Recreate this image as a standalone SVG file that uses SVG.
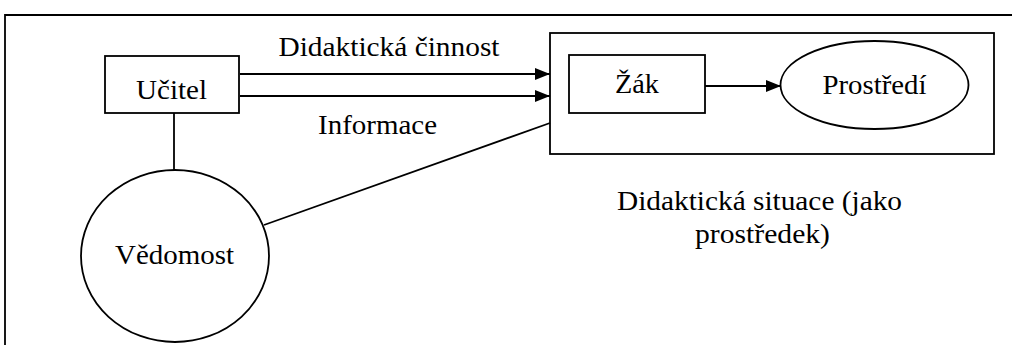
<svg xmlns="http://www.w3.org/2000/svg" width="1012" height="345" viewBox="0 0 1012 345">
<style>
  .s { fill: none; stroke: #000; stroke-width: 1.8; }
  .n { fill: #fff; stroke: #000; stroke-width: 1.8; }
  .t { font-family: "Liberation Serif", "Times New Roman", serif; font-size: 28px; fill: #000; text-anchor: middle; }
</style>
<defs>
  <marker id="arr" viewBox="0 0 15 12" refX="15" refY="6" markerWidth="15" markerHeight="12" markerUnits="userSpaceOnUse" orient="auto">
    <path d="M0,0 L15,6 L0,12 Z" fill="#000"/>
  </marker>
</defs>
<rect width="1012" height="345" fill="#fff"/>
<g id="frame">
  <path class="s" d="M5,345 L5,15 L1012,15"/>
</g>
<g id="connectors">
  <line class="s" x1="240" y1="74" x2="550" y2="74" marker-end="url(#arr)"/>
  <line class="s" x1="240" y1="96" x2="550" y2="96" marker-end="url(#arr)"/>
  <line class="s" x1="174" y1="113" x2="174" y2="170"/>
  <line class="s" x1="264" y1="225" x2="550" y2="123"/>
  <line class="s" x1="705" y1="86" x2="781" y2="86" marker-end="url(#arr)"/>
  <text class="t" x="389" y="56" textLength="221" lengthAdjust="spacingAndGlyphs">Didaktická činnost</text>
  <text class="t" x="377.5" y="134" textLength="119" lengthAdjust="spacingAndGlyphs">Informace</text>
</g>
<g id="situace">
  <rect class="s" x="550" y="33" width="444" height="121"/>
  <text class="t" x="759.5" y="210" textLength="285" lengthAdjust="spacingAndGlyphs">Didaktická situace (jako</text>
  <text class="t" x="762.5" y="243" textLength="135" lengthAdjust="spacingAndGlyphs">prostředek)</text>
</g>
<g id="ucitel">
  <rect class="n" x="105" y="56" width="134" height="57"/>
  <text class="t" x="171.5" y="99" textLength="71" lengthAdjust="spacingAndGlyphs">Učitel</text>
</g>
<g id="zak">
  <rect class="n" x="569" y="55" width="136" height="58"/>
  <text class="t" x="637" y="93" textLength="44" lengthAdjust="spacingAndGlyphs">Žák</text>
</g>
<g id="prostredi">
  <ellipse class="n" cx="874.5" cy="85" rx="94" ry="44"/>
  <text class="t" x="874.5" y="94" textLength="104" lengthAdjust="spacingAndGlyphs">Prostředí</text>
</g>
<g id="vedomost">
  <ellipse class="n" cx="175" cy="256" rx="94" ry="86"/>
  <text class="t" x="174.5" y="264" textLength="119" lengthAdjust="spacingAndGlyphs">Vědomost</text>
</g>
</svg>
